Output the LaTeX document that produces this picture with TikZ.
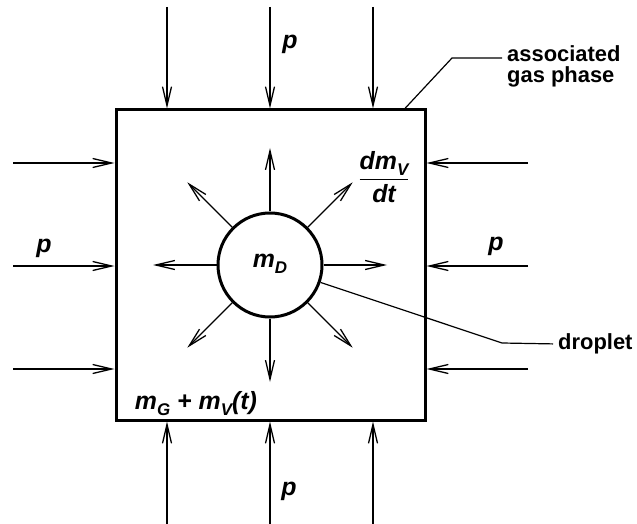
\documentclass[tikz,border=0pt]{standalone}
\usepackage{fontspec}
\usepackage{amsmath}
\setmainfont{Liberation Sans}
\usetikzlibrary{
    calc,
    arrows.meta
}
\newcommand{\lowidx}[1]{\raisebox{-6bp}{\fontsize{17}{17}\selectfont #1}}

\begin{document}
\begin{tikzpicture}[
                x=1bp, y=-1bp,
                pres/.style={-{Straight Barb[length=19bp,width=9bp]}, line width=1.3bp},
                lead/.style={line width=1.2bp, shorten >=5bp},
                sym/.style={font=\fontsize{25}{28}\selectfont\bfseries\itshape, inner sep=0pt},
                note/.style={font=\fontsize{22}{22}\selectfont\bfseries, inner sep=0pt, align=left}
            ]

                \useasboundingbox (0,0) rectangle (637,524);


                \node[
                    draw,
                    line width=3bp,
                    minimum width=309bp,
                    minimum height=310bp,
                    inner sep=0pt
                ] (gas) at (270.5,265) {};


                \node[
                    draw,
                    circle,
                    line width=3bp,
                    minimum size=104bp,
                    inner sep=0pt
                ] (drop) at (270,265) {};


                \foreach \x [count=\i] in {167,270,373} {
                    \coordinate (top\i) at (\x,7);
                    \coordinate (bot\i) at (\x,524);
                    \draw[pres] (top\i) -- (top\i |- gas.north);
                    \draw[pres] (bot\i) -- (bot\i |- gas.south);
                }

                \foreach \y [count=\i] in {163,266,369} {
                    \coordinate (lft\i) at (13,\y);
                    \coordinate (rgt\i) at (528,\y);
                    \draw[pres] (lft\i) -- (lft\i -| gas.west);
                    \draw[pres] (rgt\i) -- (rgt\i -| gas.east);
                }

                \foreach \a in {0,45,...,315} {
                    \coordinate (ray\a) at ($(drop.center)+(\a:117bp)$);
                    \draw[pres] (drop.\a) -- (ray\a);
                }


                \node[sym] (ptop) at (290,44) {p};
                \node[sym] (pbot) at (289,491) {p};
                \node[sym] (plft) at (44,248) {p};
                \node[sym] (prgt) at (496,246) {p};

                \node[sym] (mdrop) at (270,264) {m\lowidx{D}};
                \node[sym] (mgas) at (196,404) {m\lowidx{G} + m\lowidx{V}(t)};
                \node[sym] (rate) at (384,177) {%
                    $\genfrac{}{}{1.3bp}{0}{\hbox{dm\lowidx{V}}}{\hbox{dt}}$};


                \node[note, anchor=north west] (gaslabel) at (507,45) {associated\\gas phase};
                \coordinate (gasbend) at (452,58);
                \draw[lead]
                    ($(gas.north east)+(-23,1.5)$) -- (gasbend) -- (gasbend -| gaslabel.west);


                \node[note, anchor=west] (droplabel) at (558,344) {droplet};
                \coordinate (dropbend) at (502,343);
                \draw[lead]
                    (drop.-19) -- (dropbend) -- (droplabel.west);

            \end{tikzpicture}
\end{document}
